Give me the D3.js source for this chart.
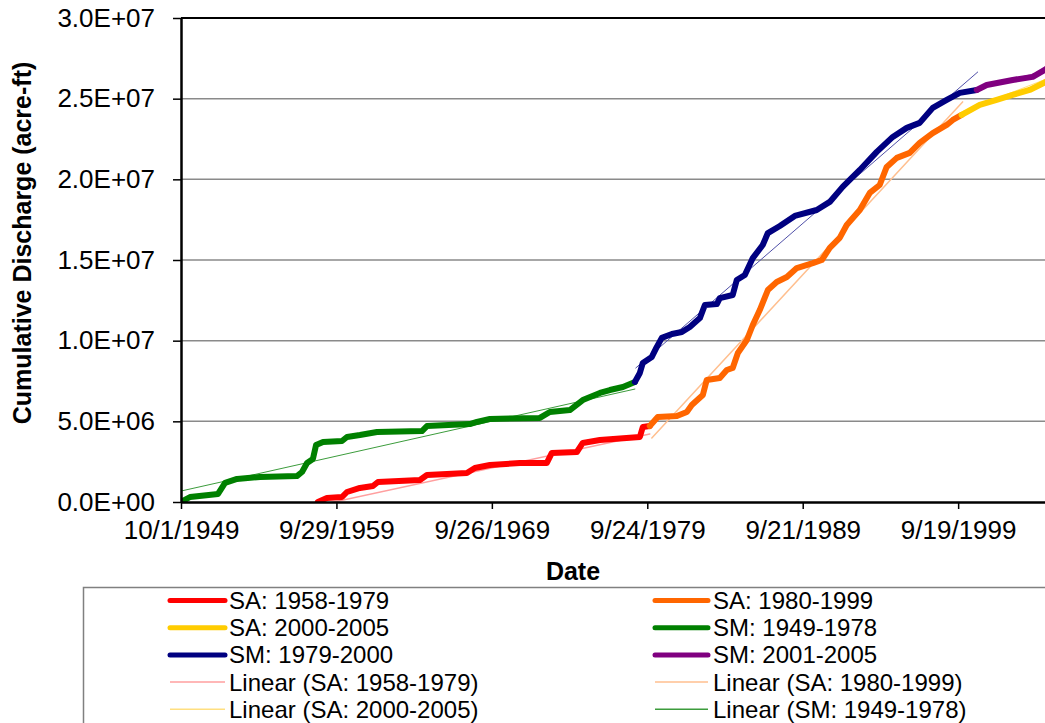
<!DOCTYPE html>
<html lang="en">
<head>
<meta charset="UTF-8">
<title>Cumulative Discharge</title>
<script src="https://cdn.jsdelivr.net/npm/d3@7"></script>
<style>
  body { margin: 0; background: #fff; }
  svg { display: block; font-family: Arial, "Liberation Sans", sans-serif; }
</style>
</head>
<body>
<svg id="chart" width="1045" height="723"></svg>
<script>
// cumulative discharge, [decimal year, acre-ft]
const sa1958 = [[1958.55, 0], [1959.13, 2.5e5], [1960.10, 3.1e5], [1960.42, 6.2e5], [1961.25, 8.7e5],
  [1962.09, 9.9e5], [1962.41, 1.24e6], [1965.11, 1.36e6], [1965.56, 1.67e6], [1968.13, 1.80e6],
  [1968.64, 2.11e6], [1969.61, 2.29e6], [1971.54, 2.42e6], [1973.27, 2.42e6], [1973.59, 3.04e6],
  [1975.20, 3.10e6], [1975.58, 3.66e6], [1976.68, 3.84e6], [1979.25, 4.03e6], [1979.44, 4.65e6],
  [1979.89, 4.71e6]];
const sa1980 = [[1979.89, 4.71e6], [1980.40, 5.27e6], [1981.63, 5.33e6], [1982.27, 5.58e6], [1982.59, 6.01e6],
  [1983.30, 6.63e6], [1983.55, 7.56e6], [1984.39, 7.69e6], [1984.84, 8.18e6], [1985.22, 8.31e6],
  [1985.55, 9.24e6], [1986.13, 1.004e7], [1986.51, 1.097e7], [1986.96, 1.19e7], [1987.48, 1.314e7],
  [1988.05, 1.364e7], [1988.70, 1.395e7], [1989.34, 1.45e7], [1990.37, 1.481e7], [1990.95, 1.50e7],
  [1991.46, 1.575e7], [1992.10, 1.637e7], [1992.55, 1.717e7], [1993.39, 1.81e7], [1994.03, 1.916e7],
  [1994.67, 1.965e7], [1995.12, 2.077e7], [1995.77, 2.133e7], [1996.60, 2.164e7], [1997.24, 2.226e7],
  [1998.08, 2.287e7], [1998.98, 2.337e7], [1999.37, 2.368e7], [1999.94, 2.399e7]];
const sa2000 = [[1999.94, 2.399e7], [2001.10, 2.461e7], [2002.19, 2.492e7], [2003.22, 2.523e7],
  [2004.31, 2.554e7], [2005.28, 2.60e7], [2005.60, 2.62e7]];
const sm1949 = [[1949.75, 0], [1950.33, 3.1e5], [1952.13, 5.0e5], [1952.58, 1.18e6], [1953.35, 1.43e6],
  [1954.83, 1.55e6], [1957.20, 1.61e6], [1957.53, 1.86e6], [1957.85, 2.42e6], [1958.23, 2.67e6],
  [1958.43, 3.53e6], [1958.88, 3.72e6], [1960.10, 3.78e6], [1960.42, 4.03e6], [1961.25, 4.15e6],
  [1962.35, 4.34e6], [1965.24, 4.40e6], [1965.56, 4.71e6], [1968.32, 4.83e6], [1968.77, 4.96e6],
  [1969.61, 5.15e6], [1972.82, 5.21e6], [1973.46, 5.58e6], [1974.75, 5.70e6], [1975.58, 6.32e6],
  [1976.68, 6.76e6], [1977.32, 6.94e6], [1978.16, 7.13e6], [1978.93, 7.44e6]];
const sm1979 = [[1978.93, 7.44e6], [1979.25, 8.00e6], [1979.44, 8.62e6], [1980.02, 8.99e6], [1980.34, 9.61e6],
  [1980.66, 1.017e7], [1981.31, 1.041e7], [1981.95, 1.054e7], [1982.46, 1.085e7], [1983.11, 1.14e7],
  [1983.43, 1.221e7], [1984.20, 1.227e7], [1984.39, 1.264e7], [1985.22, 1.283e7], [1985.48, 1.376e7],
  [1986.00, 1.407e7], [1986.51, 1.512e7], [1987.15, 1.593e7], [1987.48, 1.667e7], [1988.25, 1.711e7],
  [1989.21, 1.773e7], [1990.62, 1.81e7], [1991.46, 1.86e7], [1992.29, 1.953e7], [1993.39, 2.058e7],
  [1994.48, 2.17e7], [1995.51, 2.263e7], [1996.41, 2.319e7], [1997.24, 2.35e7], [1998.08, 2.443e7],
  [1998.98, 2.492e7], [1999.82, 2.536e7], [2000.91, 2.554e7]];
const sm2001 = [[2000.91, 2.554e7], [2001.55, 2.585e7], [2003.22, 2.616e7], [2004.51, 2.635e7],
  [2005.28, 2.678e7], [2005.60, 2.70e7]];

// linear trendlines, [start, end]
const trendSa1958 = [[1958.68, -1.9e5], [1979.89, 4.22e6]];
const trendSa1980 = [[1980.02, 3.97e6], [2000.00, 2.48e7]];
const trendSa2000 = [[2000.00, 2.42e7], [2005.60, 2.63e7]];
const trendSm1949 = [[1949.75, 6.8e5], [1978.93, 7.0e6]];
const trendSm1979 = [[1978.99, 8.31e6], [2000.97, 2.665e7]];
const trendSm2001 = [[2000.91, 2.566e7], [2005.60, 2.678e7]];

const yTicks = [0, 5e6, 1e7, 1.5e7, 2e7, 2.5e7, 3e7];
const xTickStepDays = 3650;
const xTickCount = 6;

const series = [
  { name: "SA: 1958-1979", data: sa1958, color: "#ff0000", w: 6 },
  { name: "SA: 1980-1999", data: sa1980, color: "#ff6600", w: 6 },
  { name: "SA: 2000-2005", data: sa2000, color: "#ffcc00", w: 6 },
  { name: "SM: 1949-1978", data: sm1949, color: "#008000", w: 6 },
  { name: "SM: 1979-2000", data: sm1979, color: "#000080", w: 6 },
  { name: "SM: 2001-2005", data: sm2001, color: "#800080", w: 6 },
  { name: "Linear (SA: 1958-1979)", data: trendSa1958, color: "#ff9f9f", w: 1.5, trend: true },
  { name: "Linear (SA: 1980-1999)", data: trendSa1980, color: "#ffbf8f", w: 1.5, trend: true },
  { name: "Linear (SA: 2000-2005)", data: trendSa2000, color: "#ffdf80", w: 1, trend: true },
  { name: "Linear (SM: 1949-1978)", data: trendSm1949, color: "#3c9c3c", w: 1, trend: true },
  { name: "Linear (SM: 1979-2000)", data: trendSm1979, color: "#5050a8", w: 1, trend: true },
  { name: "Linear (SM: 2001-2005)", data: trendSm2001, color: "#b070b0", w: 1, trend: true }
];

function toDate(t) {
  const yr = Math.floor(t);
  const a = new Date(yr, 0, 1), b = new Date(yr + 1, 0, 1);
  return new Date(+a + (t - yr) * (b - a));
}

const svg = d3.select("#chart");
const x0 = 181, x1 = 1052, yTop = 18, yBot = 502;
const start = new Date(1949, 9, 1);
const x = d3.scaleTime().domain([start, new Date(2005, 9, 1)]).range([x0, x1]);
const y = d3.scaleLinear().domain([0, 3e7]).range([yBot, yTop]);

const fmtExp = v => {
  const [m, e] = v.toExponential(1).split("e");
  const n = +e;
  return m + "E" + (n < 0 ? "-" : "+") + String(Math.abs(n)).padStart(2, "0");
};

// gridlines
svg.append("g").selectAll("line")
  .data(yTicks.filter(v => v > 0 && v < 3e7))
  .join("line")
  .attr("x1", x0).attr("x2", x1)
  .attr("y1", d => y(d)).attr("y2", d => y(d))
  .attr("stroke", "#8a8a8a").attr("stroke-width", 1.5);

svg.append("line")
  .attr("x1", x0).attr("x2", x1).attr("y1", y(3e7)).attr("y2", y(3e7))
  .attr("stroke", "#000").attr("stroke-width", 2);

svg.append("clipPath").attr("id", "plot")
  .append("rect").attr("x", x0).attr("y", yTop).attr("width", x1 - x0).attr("height", yBot - yTop);

const line = d3.line().x(d => x(toDate(d[0]))).y(d => y(d[1]));
const plot = svg.append("g").attr("clip-path", "url(#plot)");

// trendlines under the thick series
const ordered = series.filter(s => s.trend).concat(series.filter(s => !s.trend));
plot.selectAll("path")
  .data(ordered)
  .join("path")
  .attr("d", d => line(d.data))
  .attr("fill", "none")
  .attr("stroke", d => d.color)
  .attr("stroke-width", d => d.w)
  .attr("stroke-linejoin", "round")
  .attr("stroke-linecap", "round");

// axes
const yAxis = svg.append("g")
  .attr("transform", `translate(${x0},0)`)
  .call(d3.axisLeft(y).tickValues(yTicks).tickFormat(fmtExp).tickSize(8).tickSizeOuter(0).tickPadding(18));

const xTicks = d3.range(xTickCount).map(i => d3.timeDay.offset(start, i * xTickStepDays));
const xAxis = svg.append("g")
  .attr("transform", `translate(0,${yBot})`)
  .call(d3.axisBottom(x).tickValues(xTicks).tickFormat(d3.timeFormat("%-m/%-d/%Y"))
    .tickSize(7).tickSizeOuter(0).tickPadding(12));

[yAxis, xAxis].forEach(g => {
  g.select(".domain").attr("stroke", "#000").attr("stroke-width", 2.5);
  g.selectAll(".tick line").attr("stroke", "#000").attr("stroke-width", 1.5);
  g.selectAll(".tick text").attr("fill", "#000").attr("font-size", 26)
    .attr("font-family", "Arial, 'Liberation Sans', sans-serif");
});

svg.append("text")
  .attr("x", 573).attr("y", 580)
  .attr("text-anchor", "middle")
  .attr("font-size", 25).attr("font-weight", "bold")
  .text("Date");

svg.append("text")
  .attr("transform", "translate(31,243) rotate(-90)")
  .attr("text-anchor", "middle")
  .attr("font-size", 25).attr("font-weight", "bold")
  .text("Cumulative Discharge (acre-ft)");

// legend (only the rows that fit inside the picture)
const legend = svg.append("g");
legend.append("rect")
  .attr("x", 83.5).attr("y", 587.5).attr("width", 1000).attr("height", 200)
  .attr("fill", "#fff").attr("stroke", "#808080").attr("stroke-width", 1.5);

const colX = [[170, 225, 229], [655, 708, 713]];
const rowY0 = 600.5, rowH = 27.2;
const items = legend.selectAll("g.item")
  .data(series.slice(0, 10))
  .join("g")
  .attr("class", "item")
  .attr("transform", (d, i) => `translate(0,${rowY0 + Math.floor(i / 2) * rowH})`);

items.append("line")
  .attr("x1", (d, i) => colX[i % 2][0]).attr("x2", (d, i) => colX[i % 2][1])
  .attr("stroke", d => d.color)
  .attr("stroke-width", d => d.trend ? Math.max(d.w, 1.5) : 5)
  .attr("stroke-linecap", d => d.trend ? "butt" : "round");

items.append("text")
  .attr("x", (d, i) => colX[i % 2][2])
  .attr("dy", "0.35em")
  .attr("font-size", 24)
  .text(d => d.name);
</script>
</body>
</html>
